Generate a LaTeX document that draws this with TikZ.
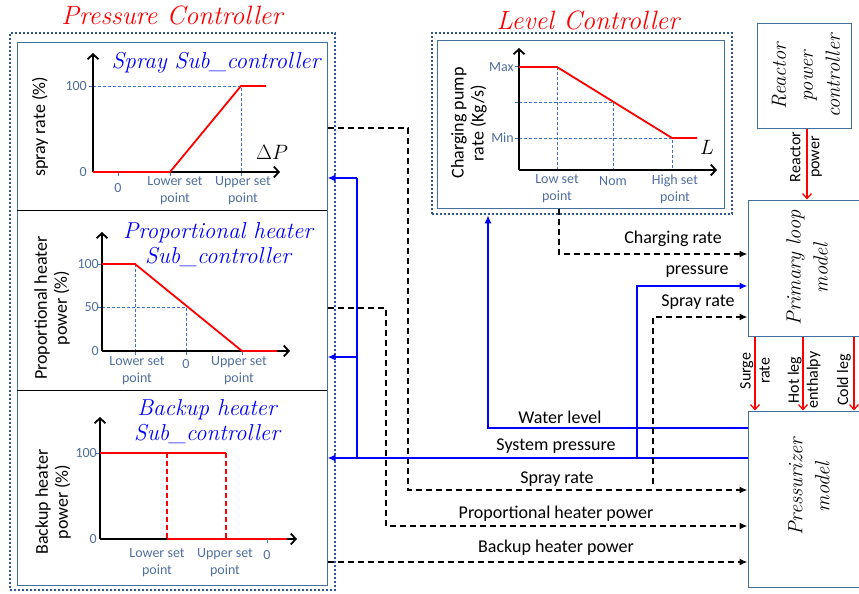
\documentclass[tikz,border=0pt]{standalone}
\usepackage{fontspec}
\newfontfamily\calfont{Carlito}
\usetikzlibrary{arrows.meta,calc}
\definecolor{dotblue}{RGB}{47,85,151}
\definecolor{boxblue}{RGB}{65,113,156}
\definecolor{tickc}{RGB}{80,110,160}
\definecolor{gridc}{RGB}{68,114,196}
\definecolor{pred}{RGB}{255,0,0}
\definecolor{pblue}{RGB}{0,0,255}
\newcommand\tickf{\calfont\fontsize{14}{17}\selectfont}
\newcommand\axf{\calfont\fontsize{18}{20}\selectfont}
\newcommand\conf{\calfont\fontsize{18}{20}\selectfont}
\newcommand\smf{\calfont\fontsize{16}{19}\selectfont}
\newcommand\ttlf{\itshape\fontsize{26.5}{28}\selectfont}
\newcommand\subf{\itshape\fontsize{23}{25}\selectfont}
\newcommand\boxf{\itshape\fontsize{20.5}{27}\selectfont}
\tikzset{
  dotbox/.style={draw=dotblue, line width=2.5pt, dash pattern=on 2.3pt off 1.7pt, inner sep=0pt},
  inbox/.style={draw=boxblue, line width=1pt, inner sep=0pt},
  axisline/.style={black, line width=1.8pt, -{Straight Barb[length=5pt,width=11pt,line width=1.8pt]}},
  curve/.style={pred, line width=1.8pt},
  rdash/.style={pred, line width=1.8pt, dash pattern=on 5pt off 3pt},
  grid/.style={gridc, line width=0.8pt, dash pattern=on 3pt off 2pt},
  tick/.style={gridc, line width=1pt},
  ticklbl/.style={tickc, font=\tickf, align=center, inner sep=1pt},
  axlbl/.style={black, font=\axf, align=center, rotate=90, inner sep=0pt},
  subtitle/.style={pblue, font=\subf, align=center, inner sep=0pt},
  maintitle/.style={pred, font=\ttlf, inner sep=0pt},
  boxtext/.style={black, font=\boxf, align=center, rotate=90, inner sep=0pt},
  conlbl/.style={black, font=\conf, inner sep=0pt},
  smlbl/.style={black, font=\smf, align=center, rotate=90, inner sep=0pt},
  dconn/.style={black, line width=1.8pt, dash pattern=on 6pt off 4pt, -{Latex[length=8pt,width=7pt]}},
  bconn/.style={pblue, line width=1.8pt, -{Latex[length=8pt,width=7pt]}},
  bline/.style={pblue, line width=1.8pt},
  rconn/.style={pred, line width=1.3pt, -{Straight Barb[length=5pt,width=9pt,line width=1.3pt]}},
  plain/.style={inner sep=0pt, outer sep=0pt}
}
\begin{document}
\begin{tikzpicture}[x=1pt,y=-1pt]
\useasboundingbox (0,0) rectangle (859,594);
\clip (0,0) rectangle (859,594);

% ---------------- Pressure controller frame
\node[dotbox, minimum width=325pt, minimum height=557pt] (pc) at (172.5,311.5) {};
\node[inbox, minimum width=310pt, minimum height=542pt] (pcin) at (172,314) {};
\node[maintitle] (pct) at (172,15) {Pressure Controller};
\node[plain, minimum width=310pt, minimum height=167pt] (spray) at (172,126.5) {};
\node[plain, minimum width=310pt, minimum height=180pt] (prop) at (172,300) {};
\node[plain, minimum width=310pt, minimum height=195pt] (backup) at (172,487.5) {};
\draw[black, line width=0.8pt] (spray.south west) -- (spray.south east);
\draw[black, line width=0.8pt] (prop.south west) -- (prop.south east);

% ---------------- Spray sub-controller graph
\draw[grid] (93,86) -- (241,86) -- (241,172);
\draw[tick] (89,86) -- (93,86);
\draw[tick] (118,172) -- (118,176) (170,172) -- (170,176) (241,172) -- (241,176);
\draw[axisline] (93,172) -- (280,172);
\draw[axisline] (93,172) -- (93,53);
\draw[curve] (93,172) -- (170,172) -- (241,86) -- (266,86);
\node[ticklbl, anchor=east] (s100) at (88,86) {100};
\node[ticklbl, anchor=east] (s0) at (88,172) {0};
\node[ticklbl] (sx0) at (118,188) {0};
\node[ticklbl] (sxl) at (175,191) {Lower set\\point};
\node[ticklbl] (sxu) at (243,191) {Upper set\\point};
\node[black, font=\fontsize{20}{20}\selectfont, inner sep=0pt] (dp) at (272,152) {$\Delta P$};
\node[axlbl] (sax) at (40,127) {spray rate (\%)};
\node[subtitle] (stt) at (216,63) {Spray Sub\_controller};

% ---------------- Proportional heater graph
\draw[grid] (135,264) -- (135,351);
\draw[grid] (102,307) -- (186,307) -- (186,351);
\draw[tick] (98,264) -- (102,264) (98,307) -- (102,307);
\draw[tick] (135,351) -- (135,355) (186,351) -- (186,355) (242,351) -- (242,355);
\draw[axisline] (102,351) -- (290,351);
\draw[axisline] (102,351) -- (102,232);
\draw[curve] (102,264) -- (135,264) -- (242,351) -- (277,351);
\node[ticklbl, anchor=east] (p100) at (100,264) {100};
\node[ticklbl, anchor=east] (p50) at (100,307) {50};
\node[ticklbl, anchor=east] (p0) at (100,351) {0};
\node[ticklbl] (pxl) at (137,371) {Lower set\\point};
\node[ticklbl] (px0) at (186,364) {0};
\node[ticklbl] (pxu) at (239,371) {Upper set\\point};
\node[axlbl] (pax) at (52,308) {Proportional heater\\power (\%)};
\node[subtitle] (ptt) at (218,245) {Proportional heater\\Sub\_controller};

% ---------------- Backup heater graph
\draw[tick] (96,453) -- (100,453);
\draw[axisline] (100,539) -- (297,539);
\draw[axisline] (100,539) -- (100,417);
\draw[curve] (100,453) -- (226,453);
\draw[rdash] (167,453) -- (167,539);
\draw[rdash] (226,453) -- (226,539);
\draw[curve] (167,539) -- (287,539);
\draw[tick] (267,539) -- (267,543);
\node[ticklbl, anchor=east] (b100) at (98,453) {100};
\node[ticklbl, anchor=east] (b0) at (98,539) {0};
\node[ticklbl] (bxl) at (157,563) {Lower set\\point};
\node[ticklbl] (bxu) at (225,563) {Upper set\\point};
\node[ticklbl] (bx0) at (267,555) {0};
\node[axlbl] (bax) at (53,502) {Backup heater\\power (\%)};
\node[subtitle] (btt) at (207,422) {Backup heater\\Sub\_controller};

% ---------------- Level controller
\node[dotbox, minimum width=300pt, minimum height=181pt] (lc) at (582,123.5) {};
\node[inbox, minimum width=287pt, minimum height=167pt] (lcin) at (580.5,124.5) {};
\node[maintitle] (lct) at (588,20) {Level Controller};
\draw[grid] (557,67) -- (557,170);
\draw[grid] (519,102) -- (613,102) -- (613,170);
\draw[grid] (519,138) -- (672,138) -- (672,170);
\draw[tick] (515,67) -- (519,67) (515,102) -- (519,102) (515,138) -- (519,138);
\draw[axisline] (519,170) -- (717,170);
\draw[axisline] (519,170) -- (519,48);
\draw[curve] (519,67) -- (557,67) -- (672,138) -- (697,138);
\node[ticklbl, anchor=east] (lmax) at (515,67) {Max};
\node[ticklbl, anchor=east] (lmin) at (515,138) {Min};
\node[ticklbl] (lxl) at (557,189) {Low set\\point};
\node[ticklbl] (lxn) at (613,181) {Nom};
\node[ticklbl] (lxh) at (675,189) {High set\\point};
\node[black, font=\fontsize{20}{20}\selectfont, inner sep=0pt] (ll) at (707,147) {$L$};
\node[axlbl] (lax) at (469,123) {Charging pump\\rate (Kg/s)};

% ---------------- Right boxes
\node[inbox, minimum width=94pt, minimum height=104pt] (rpc) at (804,76) {};
\node[boxtext] (rpct) at (806,76) {Reactor\\power\\controller};
\node[inbox, minimum width=118pt, minimum height=136pt] (plm) at (807,268) {};
\node[boxtext] (plmt) at (807,268) {Primary loop\\model};
\node[inbox, minimum width=118pt, minimum height=176pt] (pzm) at (807,499) {};
\node[boxtext] (pzmt) at (809,487) {Pressurizer\\model};

% red arrows
\coordinate (rp) at (807,160);
\draw[rconn] (rp |- rpc.south) -- (rp |- plm.north);
\node[smlbl] (rpl) at (806,157) {Reactor\\power};
\coordinate (su) at (755,373);
\coordinate (hl) at (803,373);
\coordinate (cl) at (854,373);
\draw[rconn] (su |- plm.south) -- (su |- pzm.north);
\draw[rconn] (hl |- plm.south) -- (hl |- pzm.north);
\draw[rconn] (cl |- plm.south) -- (cl |- pzm.north);
\node[smlbl] (sul) at (755,371) {Surge\\rate};
\node[smlbl] (hll) at (804,380) {Hot leg\\enthalpy};
\node[smlbl] (cll) at (844,380) {Cold leg};

% ---------------- Connectors
% spray rate
\coordinate (s1) at (408,128);
\coordinate (s2) at (408,490);
\draw[dconn] (pcin.east |- s1) -- (s1) -- (s2) -- (s2 -| pzm.west);
\node[conlbl] (srl) at (557,479) {Spray rate};
% proportional heater power
\coordinate (h1) at (386,308);
\coordinate (h2) at (386,526);
\draw[dconn] (pcin.east |- h1) -- (h1) -- (h2) -- (h2 -| pzm.west);
\node[conlbl] (phl) at (556,514) {Proportional heater power};
% backup heater power
\coordinate (bk) at (400,562);
\draw[dconn] (pcin.east |- bk) -- (bk -| pzm.west);
\node[conlbl] (bhl) at (556,548) {Backup heater power};
% charging rate
\coordinate (cr) at (559,254);
\draw[dconn] (cr |- lcin.south) -- (cr) -- (cr -| plm.west);
\node[conlbl] (crl) at (673,239) {Charging rate};
% water level
\coordinate (wl) at (488,428);
\draw[bconn] (pzm.west |- wl) -- (wl) -- (wl |- lc.south);
\node[conlbl] (wll) at (560,417) {Water level};
% system pressure
\coordinate (sp) at (357,458);
\coordinate (sp1) at (357,178);
\coordinate (sp2) at (357,357);
\coordinate (pp) at (637,286);
\draw[bconn] (pzm.west |- sp) -- (sp -| pcin.east);
\draw[bline] (sp) -- (sp1);
\draw[bconn] (sp1) -- (sp1 -| pcin.east);
\draw[bconn] (sp2) -- (sp2 -| pcin.east);
\node[conlbl] (spl) at (556,446) {System pressure};
\draw[bconn] (pp |- sp) -- (pp) -- (pp -| plm.west);
\node[conlbl] (ppl) at (697,272) {pressure};
% spray rate to primary loop
\coordinate (s3) at (653,317);
\draw[dconn] (653,484) -- (s3) -- (s3 -| plm.west);
\node[conlbl] (sr2l) at (698,302) {Spray rate};
\end{tikzpicture}
\end{document}
